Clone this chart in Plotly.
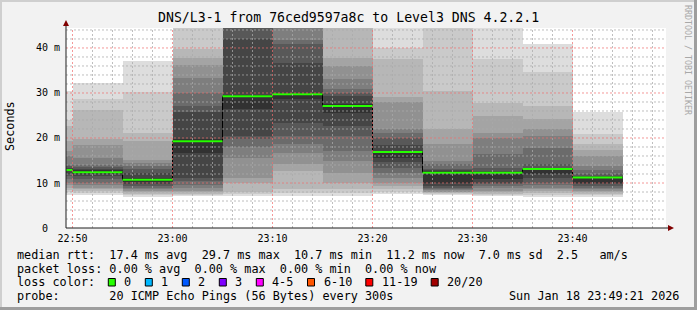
import plotly.graph_objects as go
from datetime import datetime, timedelta

# ---------------- data ----------------
times = ["22:45", "22:50", "22:55", "23:00", "23:05", "23:10",
         "23:15", "23:20", "23:25", "23:30", "23:35", "23:40"]
medians = [12.9, 12.4, 10.7, 19.3, 29.3, 29.7, 27.1, 16.9, 12.3, 12.3, 13.1, 11.2]
# 20 sorted ping rtts (ms) per 5-minute step
pings = [
    [7.4, 7.9, 8.4, 8.9, 9.5, 10.1, 10.8, 11.5, 12.1, 12.7, 13.1, 13.4, 13.8, 14.1, 16.0, 17.1, 19.3, 22.7, 24.1, 30.4],
    [7.4, 7.8, 8.2, 8.6, 9.0, 9.5, 10.1, 10.8, 11.5, 12.0, 12.8, 13.1, 13.5, 13.9, 15.6, 18.4, 19.7, 26.2, 28.7, 32.3],
    [7.0, 7.3, 7.6, 7.9, 8.2, 8.6, 9.0, 9.4, 9.8, 10.2, 11.2, 12.3, 13.0, 13.8, 14.4, 15.0, 19.3, 21.2, 30.2, 37.0],
    [7.1, 7.3, 7.6, 7.9, 8.2, 8.8, 9.6, 10.4, 11.2, 16.7, 19.7, 25.8, 27.1, 30.1, 33.4, 36.2, 37.7, 39.7, 46.0, 50.0],
    [7.1, 7.5, 8.0, 10.1, 11.2, 15.6, 17.9, 19.7, 20.4, 26.4, 29.6, 41.9, 46.0, 48.0, 50.0, 52.0, 55.0, 58.0, 61.0, 65.0],
    [7.1, 7.8, 8.6, 12.7, 14.2, 16.7, 18.6, 20.4, 23.4, 28.6, 30.1, 36.7, 40.8, 41.8, 46.0, 48.0, 51.0, 54.0, 58.0, 62.0],
    [7.1, 7.8, 8.6, 10.1, 12.3, 14.9, 17.1, 20.4, 22.7, 25.5, 27.5, 29.3, 30.1, 30.8, 33.0, 36.0, 37.8, 46.0, 50.0, 55.0],
    [7.5, 7.9, 8.6, 9.3, 10.1, 11.2, 12.3, 13.4, 14.6, 15.6, 17.2, 18.5, 20.1, 21.1, 21.9, 28.0, 29.0, 37.5, 40.0, 46.0],
    [7.3, 7.5, 7.7, 7.9, 8.1, 8.4, 8.6, 9.0, 9.4, 10.1, 12.6, 12.8, 13.0, 14.2, 14.9, 18.6, 21.9, 30.4, 46.0, 50.0],
    [7.1, 7.3, 7.5, 7.9, 8.2, 8.9, 9.3, 9.8, 10.1, 10.8, 12.4, 12.6, 13.4, 16.4, 20.1, 21.2, 24.9, 27.8, 37.6, 47.0],
    [7.0, 7.4, 7.8, 8.2, 8.6, 9.0, 9.5, 10.1, 11.1, 11.9, 13.3, 13.4, 14.2, 17.8, 20.5, 21.9, 24.2, 27.1, 34.6, 40.8],
    [7.0, 7.3, 7.6, 7.9, 8.2, 8.6, 9.0, 9.3, 9.7, 10.1, 11.3, 11.5, 11.9, 12.8, 13.8, 16.0, 17.3, 18.6, 20.8, 25.8],
]
x_tick_labels = ["22:50", "23:00", "23:10", "23:20", "23:30", "23:40"]
y_tick_values = [0, 10, 20, 30, 40]
y_tick_labels = ["0", "10 m", "20 m", "30 m", "40 m"]
loss_labels = ["0", "1", "2", "3", "4-5", "6-10", "11-19", "20/20"]
loss_colors = ["#26ff00", "#00b8ff", "#0059ff", "#7e00ff", "#ff00ff", "#ff5500", "#ff0000", "#a10000"]

title = "DNS/L3-1 from 76ced9597a8c to Level3 DNS 4.2.2.1"
legend_lines = [
    "median rtt:  17.4 ms avg  29.7 ms max  10.7 ms min  11.2 ms now  7.0 ms sd  2.5   am/s",
    "packet loss: 0.00 % avg  0.00 % max  0.00 % min  0.00 % now",
    "loss color:",
    "probe:       20 ICMP Echo Pings (56 Bytes) every 300s",
]
date_text = "Sun Jan 18 23:49:21 2026"
side_text = "RRDTOOL / TOBI OETIKER"

# ---------------- geometry ----------------
W, H = 697, 310
L, R, T, B = 66, 31, 28, 82
PW, PH = W - L - R, H - T - B
MONO = "DejaVu Sans Mono"


def px(x):
    return (x - L) / PW


def py(y):
    return (H - B - y) / PH


day = datetime(2026, 1, 18)


def tm(s):
    h, m = s.split(":")
    return day + timedelta(hours=int(h), minutes=int(m))


starts = [tm(t) for t in times]
step = timedelta(minutes=5)
x_end = tm("23:49") + timedelta(seconds=21)
x_start = x_end - timedelta(hours=1)

fig = go.Figure()

# smoke: 10 nested bands, outermost lightest
half = len(pings[0]) // 2
for k in range(1, half + 1):
    g = int(190 / half * (half - k)) + 50
    col = "#%02x%02x%02x" % (g, g, g)
    fig.add_trace(go.Bar(
        x=starts,
        base=[p[k - 1] for p in pings],
        y=[p[len(p) - k] - p[k - 1] for p in pings],
        width=[step.total_seconds() * 1000] * len(starts),
        offset=0,
        marker=dict(color=col, line=dict(width=0)),
        hoverinfo="skip", showlegend=False,
    ))

# median: dark step line + green segments
fig.add_trace(go.Scatter(
    x=starts + [starts[-1] + step], y=medians + [medians[-1]],
    mode="lines", line=dict(color="#000000", width=1, shape="hv"),
    hoverinfo="skip", showlegend=False,
))
gx, gy = [], []
for s, m in zip(starts, medians):
    gx += [s, s + step, None]
    gy += [m, m, None]
fig.add_trace(go.Scatter(
    x=gx, y=gy, mode="lines", line=dict(color=loss_colors[0], width=2),
    hoverinfo="skip", showlegend=False,
))

shapes = []
minor = "rgba(170,170,170,0.75)"
major = "rgba(240,110,110,0.7)"
# vertical grid every 2 minutes
t = tm("22:50")
while t <= x_end:
    is_major = t.minute % 10 == 0
    shapes.append(dict(type="line", xref="x", yref="paper", x0=t, x1=t, y0=0, y1=1,
                       line=dict(color=major if is_major else minor, width=1, dash="2px,2px"),
                       layer="above"))
    t += timedelta(minutes=2)
# horizontal grid every 2 ms
v = 2
while v < 44.44:
    is_major = v % 10 == 0
    shapes.append(dict(type="line", xref="paper", yref="y", x0=0, x1=1, y0=v, y1=v,
                       line=dict(color=major if is_major else minor, width=1, dash="2px,2px"),
                       layer="above"))
    v += 2

# axes lines + arrows
axis_col = "#1f1f1f"
arrow_col = "#800000"
shapes.append(dict(type="line", xref="paper", yref="paper", x0=px(66), x1=px(670), y0=0, y1=0,
                   line=dict(color=axis_col, width=1), layer="above"))
shapes.append(dict(type="line", xref="paper", yref="paper", x0=0, x1=0, y0=0, y1=py(24),
                   line=dict(color=axis_col, width=1), layer="above"))
shapes.append(dict(type="path", xref="paper", yref="paper",
                   path="M %f %f L %f %f L %f %f Z" % (px(668), py(225), px(674), py(228), px(668), py(231)),
                   fillcolor=arrow_col, line=dict(color=arrow_col, width=0), layer="above"))
shapes.append(dict(type="path", xref="paper", yref="paper",
                   path="M %f %f L %f %f L %f %f Z" % (px(63), py(26), px(66), py(20), px(69), py(26)),
                   fillcolor=arrow_col, line=dict(color=arrow_col, width=0), layer="above"))

# frame shading
shapes.append(dict(type="rect", xref="paper", yref="paper", x0=px(0), x1=px(W), y0=py(0), y1=py(2),
                   fillcolor="#cfcfcf", line=dict(width=0), layer="below"))
shapes.append(dict(type="rect", xref="paper", yref="paper", x0=px(0), x1=px(2), y0=py(0), y1=py(H),
                   fillcolor="#cfcfcf", line=dict(width=0), layer="below"))
shapes.append(dict(type="rect", xref="paper", yref="paper", x0=px(W - 3), x1=px(W), y0=py(0), y1=py(H),
                   fillcolor="#9e9e9e", line=dict(width=0), layer="below"))
shapes.append(dict(type="rect", xref="paper", yref="paper", x0=px(0), x1=px(W), y0=py(H - 3), y1=py(H),
                   fillcolor="#9e9e9e", line=dict(width=0), layer="below"))

annotations = []
LF = 11.8
annotations.append(dict(text=title.replace(" ", "\u00a0"), xref="paper", yref="paper",
                        x=px(348), y=py(18), xanchor="center", yanchor="middle", showarrow=False,
                        font=dict(family=MONO, size=13.2, color="#000000")))
annotations.append(dict(text="Seconds", xref="paper", yref="paper", x=px(10), y=py(126),
                        xanchor="center", yanchor="middle", textangle=-90, showarrow=False,
                        font=dict(family=MONO, size=LF, color="#000000")))
line_y = [255, 268.5, 282.3, 296]
for txt, yy in zip(legend_lines, line_y):
    annotations.append(dict(text=txt.replace(" ", "\u00a0"), xref="paper", yref="paper",
                            x=px(15), y=py(yy), xanchor="left", yanchor="middle", showarrow=False,
                            font=dict(family=MONO, size=LF, color="#000000")))
annotations.append(dict(text=date_text.replace(" ", "\u00a0"), xref="paper", yref="paper",
                        x=px(681), y=py(296), xanchor="right", yanchor="middle", showarrow=False,
                        font=dict(family=MONO, size=LF, color="#000000")))
annotations.append(dict(text=side_text.replace(" ", "\u00a0"), xref="paper", yref="paper",
                        x=px(688), y=py(60), xanchor="center", yanchor="middle", textangle=90,
                        showarrow=False, font=dict(family=MONO, size=8.3, color="#a8a8a8")))

# loss colour boxes
bx = 108.3
for lab, col in zip(loss_labels, loss_colors):
    shapes.append(dict(type="rect", xref="paper", yref="paper", x0=px(bx), x1=px(bx + 7),
                       y0=py(286), y1=py(278.5), fillcolor=col,
                       line=dict(color="#000000", width=1), layer="above"))
    annotations.append(dict(text=lab, xref="paper", yref="paper", x=px(bx + 14), y=py(282.3),
                            xanchor="left", yanchor="middle", showarrow=False,
                            font=dict(family=MONO, size=LF, color="#000000")))
    bx += 29.9 + 7.1 * len(lab)

# y tick labels are right-aligned in fixed-width cells, the bare "0" sits a bit left
y_ticktext = [s if " " in s else s + "\u00a0\u00a0" for s in y_tick_labels]

fig.update_layout(
    width=W, height=H,
    margin=dict(l=L, r=R, t=T, b=B, pad=0),
    paper_bgcolor="#f2f2f2", plot_bgcolor="#ffffff",
    barmode="overlay", bargap=0,
    showlegend=False,
    shapes=shapes, annotations=annotations,
    xaxis=dict(type="date", range=[x_start, x_end], showgrid=False, zeroline=False,
               showline=False, ticks="",
               tickvals=[tm(s) for s in x_tick_labels], ticktext=x_tick_labels,
               tickfont=dict(family=MONO, size=10, color="#000000"), ticklabelstandoff=3),
    yaxis=dict(range=[0, 44.44], showgrid=False, zeroline=False, showline=False, ticks="",
               tickvals=y_tick_values, ticktext=y_ticktext,
               tickfont=dict(family=MONO, size=10, color="#000000"), ticklabelstandoff=5),
)

fig.write_html("out.html")
